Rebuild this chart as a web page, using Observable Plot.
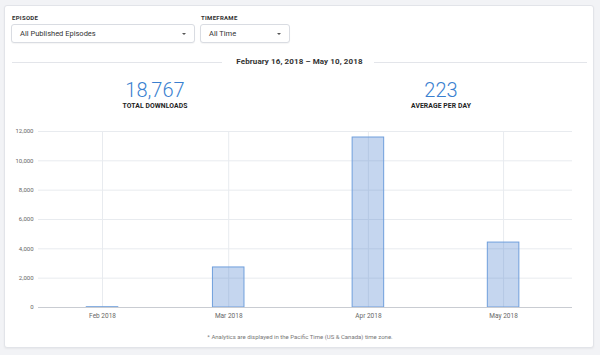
<!DOCTYPE html>
<html>
<head>
<meta charset="utf-8">
<script src="https://cdn.jsdelivr.net/npm/d3@7"></script>
<script src="https://cdn.jsdelivr.net/npm/@observablehq/plot@0.6"></script>
<style>
  html, body { margin: 0; padding: 0; }
  body { width: 600px; height: 355px; background: #f2f3f6; font-family: Roboto, "Noto Sans", sans-serif; position: relative; overflow: hidden; color: #222; }
  .card { position: absolute; left: 4px; top: 5px; width: 588px; height: 341px; background: #fff; border: 1px solid #e2e4e9; border-radius: 3px; box-shadow: 0 1px 2px rgba(0,0,0,0.05); }
  .lbl { position: absolute; font-size: 6px; font-weight: 700; letter-spacing: 0.3px; color: #333; }
  .sel { position: absolute; height: 19px; border: 1px solid #d9dce2; border-radius: 3px; background: #fff; box-sizing: border-box; font-size: 7.5px; line-height: 17px; padding-left: 8px; color: #333; box-shadow: 0 1px 1px rgba(0,0,0,0.04); }
  .caret { position: absolute; right: 8px; top: 8px; width: 0; height: 0; border-left: 2px solid transparent; border-right: 2px solid transparent; border-top: 2.5px solid #555; }
  .range { position: absolute; left: 12px; width: 575px; top: 57px; height: 10px; }
  .range .line { position: absolute; top: 5px; height: 1px; background: #e3e5ea; }
  .range .txt { position: absolute; left: 0; right: 0; text-align: center; font-size: 8px; font-weight: 700; line-height: 10px; color: #333; letter-spacing: 0.1px; }
  .stat { position: absolute; width: 160px; text-align: center; }
  .stat .num { font-size: 20px; font-weight: 300; color: #3a7fd0; line-height: 20px; }
  .stat .cap { font-size: 6.8px; font-weight: 700; color: #222; margin-top: 2px; letter-spacing: 0.1px; }
  #chart { position: absolute; left: 0; top: 120px; }
  .note { position: absolute; left: 0; width: 600px; top: 333px; text-align: center; font-size: 6px; color: #777; }
</style>
</head>
<body>
<div class="card"></div>
<div class="lbl" style="left:12px; top:14px;">EPISODE</div>
<div class="sel" style="left:11px; top:24px; width:184px;">All Published Episodes<div class="caret"></div></div>
<div class="lbl" style="left:201px; top:14px;">TIMEFRAME</div>
<div class="sel" style="left:200px; top:24px; width:90px;">All Time<div class="caret"></div></div>
<div class="range">
  <div class="line" style="left:0; width:210px;"></div>
  <div class="line" style="left:362px; width:213px;"></div>
  <div class="txt">February 16, 2018 – May 10, 2018</div>
</div>
<div class="stat" style="left:75px; top:80px;"><div class="num" id="total"></div><div class="cap">TOTAL DOWNLOADS</div></div>
<div class="stat" style="left:361px; top:80px;"><div class="num" id="avg"></div><div class="cap">AVERAGE PER DAY</div></div>
<div id="chart"></div>
<div class="note">* Analytics are displayed in the Pacific Time (US &amp; Canada) time zone.</div>
<script>
// Data
const months = ["2018-02-01", "2018-03-01", "2018-04-01", "2018-05-01"];
const monthLabels = ["Feb 2018", "Mar 2018", "Apr 2018", "May 2018"];
const downloads = [20, 2730, 11590, 4427];
const yTicks = [0, 2000, 4000, 6000, 8000, 10000, 12000];
const totalDownloads = "18,767";
const averagePerDay = "223";

document.getElementById("total").textContent = totalDownloads;
document.getElementById("avg").textContent = averagePerDay;

const monthDates = months.map(m => new Date(m + "T00:00:00Z"));
const data = monthDates.map((d, i) => ({date: d, label: monthLabels[i], value: downloads[i]}));
const halfBar = 84; // hours

const chart = Plot.plot({
  width: 600,
  height: 205,
  marginLeft: 38,
  marginRight: 28,
  marginTop: 11,
  marginBottom: 18,
  style: {fontFamily: "Roboto, 'Noto Sans', sans-serif", background: "transparent"},
  x: {type: "utc", domain: [new Date("2018-01-17T19:00:00Z"), new Date("2018-05-16T07:00:00Z")]},
  y: {domain: [0, 12000]},
  marks: [
    Plot.gridY(yTicks, {stroke: "#e8ebef", strokeOpacity: 1}),
    Plot.gridX(monthDates, {stroke: "#e8ebef", strokeOpacity: 1}),
    Plot.rectY(data, {
      x1: d => d3.utcHour.offset(d.date, -halfBar),
      x2: d => d3.utcHour.offset(d.date, halfBar),
      y: "value",
      fill: "#4a7fcc",
      fillOpacity: 0.32,
      stroke: "#6f9fdc",
      strokeWidth: 1
    }),
    Plot.ruleY([0], {stroke: "#c9ccd2"}),
    Plot.axisY(yTicks, {tickSize: 0, tickPadding: 5, tickFormat: d3.format(","), fontSize: 6, fill: "#666", label: null}),
    Plot.axisX(monthDates, {tickSize: 0, tickPadding: 6, tickFormat: (d, i) => monthLabels[i], fontSize: 6.5, fill: "#666", label: null})
  ]
});
document.getElementById("chart").appendChild(chart);
</script>
</body>
</html>
